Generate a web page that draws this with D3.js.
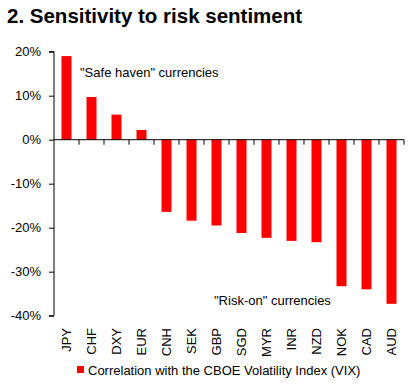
<!DOCTYPE html>
<html>
<head>
<meta charset="utf-8">
<script src="https://cdn.jsdelivr.net/npm/d3@7"></script>
<style>
  body { margin: 0; background: #fff; }
  text { font-family: "Liberation Sans", Arial, sans-serif; fill: #000; }
</style>
</head>
<body>
<script>
const currencies = ['JPY', 'CHF', 'DXY', 'EUR', 'CNH', 'SEK', 'GBP', 'SGD', 'MYR', 'INR', 'NZD', 'NOK', 'CAD', 'AUD'];
const correlation = [19.0, 9.7, 5.7, 2.2, -16.4, -18.4, -19.5, -21.2, -22.3, -23.0, -23.3, -33.3, -34.0, -37.3];
const yTicks = [20, 10, 0, -10, -20, -30, -40];
const legendLabel = 'Correlation with the CBOE Volatility Index (VIX)';

const width = 410;
const height = 385;
const plotLeft = 54, plotRight = 404, plotTop = 51.7, plotBottom = 315.7;

const svg = d3.select('body')
    .append('svg')
    .attr('width', width)
    .attr('height', height);

svg.append('text')
    .attr('x', 7)
    .attr('y', 23)
    .style('font-size', '20.5px')
    .style('font-weight', 'bold')
    .text('2. Sensitivity to risk sentiment');

const xScale = d3.scaleBand()
    .domain(currencies)
    .range([plotLeft, plotRight])
    .paddingInner(0.6)
    .paddingOuter(0.3);

const yScale = d3.scaleLinear()
    .domain([-40, 20])
    .range([plotBottom, plotTop]);

svg.selectAll('rect.bar')
    .data(correlation)
    .enter()
    .append('rect')
    .attr('class', 'bar')
    .attr('x', (d, i) => xScale(currencies[i]))
    .attr('width', xScale.bandwidth())
    .attr('y', (d) => yScale(Math.max(0, d)))
    .attr('height', (d) => Math.abs(yScale(d) - yScale(0)))
    .style('fill', '#ff0000');

// y axis
const yAxis = d3.axisLeft(yScale)
    .tickValues(yTicks)
    .tickFormat((d) => d + '%')
    .tickSize(5);

const gy = svg.append('g')
    .attr('transform', 'translate(' + plotLeft + ',0)')
    .call(yAxis);
gy.select('.domain').attr('d', 'M-5,' + plotTop + 'H0V' + plotBottom + 'H-5').attr('stroke', '#000');
gy.selectAll('text').style('font-size', '13px').attr('x', -13);

// x axis line at zero with ticks between categories
const boundaries = d3.range(currencies.length + 1).map((i) => plotLeft + i * (plotRight - plotLeft) / currencies.length);
svg.append('line')
    .attr('x1', plotLeft).attr('x2', plotRight)
    .attr('y1', yScale(0)).attr('y2', yScale(0))
    .attr('stroke', '#000');
svg.selectAll('line.xtick')
    .data(boundaries.slice(1))
    .enter()
    .append('line')
    .attr('class', 'xtick')
    .attr('x1', (d) => d).attr('x2', (d) => d)
    .attr('y1', yScale(0)).attr('y2', yScale(0) + 5)
    .attr('stroke', '#000');

// category labels
svg.selectAll('text.cat')
    .data(currencies)
    .enter()
    .append('text')
    .attr('class', 'cat')
    .attr('transform', (d) => 'translate(' + (xScale(d) + xScale.bandwidth() / 2 + 4) + ',' + 328 + ') rotate(-90)')
    .attr('text-anchor', 'end')
    .style('font-size', '13px')
    .text((d) => d);

svg.append('text')
    .attr('x', 80)
    .attr('y', 77)
    .style('font-size', '13px')
    .text('"Safe haven" currencies');

svg.append('text')
    .attr('x', 214)
    .attr('y', 305)
    .style('font-size', '13px')
    .text('"Risk-on" currencies');

// legend
svg.append('rect')
    .attr('x', 77)
    .attr('y', 366)
    .attr('width', 7)
    .attr('height', 7)
    .style('fill', '#ff0000');
svg.append('text')
    .attr('x', 88)
    .attr('y', 375)
    .style('font-size', '13px')
    .text(legendLabel);
</script>
</body>
</html>
